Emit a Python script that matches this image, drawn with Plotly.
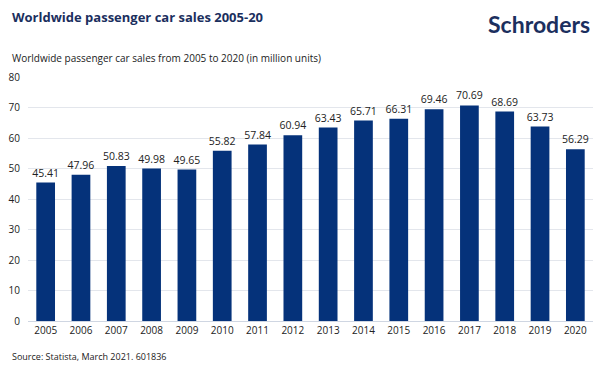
import plotly.graph_objects as go

years = [str(y) for y in range(2005, 2021)]
sales = [45.41, 47.96, 50.83, 49.98, 49.65, 55.82, 57.84, 60.94, 63.43, 65.71,
         66.31, 69.46, 70.69, 68.69, 63.73, 56.29]
y_ticks = [0, 10, 20, 30, 40, 50, 60, 70, 80]

font_family = "Open Sans, Noto Sans, sans-serif"
navy = "#05327a"

# page has default 8px body margin; figure is sized to fill the rest
OFF = 8
W, H = 604 - OFF, 369 - OFF
ML, MR, MT, MB = 28 - OFF, 11, 77 - OFF, 48

fig = go.Figure()
fig.add_trace(go.Bar(
    x=years, y=sales,
    marker=dict(color=navy, line=dict(width=0)),
    text=[f"{v:.2f}" for v in sales],
    textposition="outside",
    constraintext="none",
    textfont=dict(size=10.5, color="#222222", family=font_family),
    cliponaxis=False,
))

def px_to_paper(px, py):
    px -= OFF
    py -= OFF
    x0, x1 = ML, W - MR
    y0, y1 = H - MB, MT
    return (px - x0) / (x1 - x0), (y0 - py) / (y0 - y1)

anns = []
x, y = px_to_paper(10, 17)
anns.append(dict(text="<b>Worldwide passenger car sales 2005-20</b>", x=x, y=y,
                 xref="paper", yref="paper", xanchor="left", yanchor="middle",
                 showarrow=False, font=dict(size=13, color="#1b2f5e", family=font_family)))
x, y = px_to_paper(10, 58)
anns.append(dict(text="Worldwide passenger car sales from 2005 to 2020 (in million units)",
                 x=x, y=y, xref="paper", yref="paper", xanchor="left", yanchor="middle",
                 showarrow=False, font=dict(size=10, color="#222222", family=font_family)))
x, y = px_to_paper(10, 356)
anns.append(dict(text="Source: Statista, March 2021. 601836", x=x, y=y,
                 xref="paper", yref="paper", xanchor="left", yanchor="middle",
                 showarrow=False, font=dict(size=9, color="#222222", family=font_family)))
x, y = px_to_paper(592, 24)
anns.append(dict(text="<b>Schroders</b>", x=x, y=y, xref="paper", yref="paper",
                 xanchor="right", yanchor="middle", showarrow=False,
                 font=dict(size=23, color="#1b2f5e", family="Lato, Open Sans, sans-serif")))

fig.update_layout(
    width=W, height=H,
    margin=dict(l=ML, r=MR, t=MT, b=MB, autoexpand=False),
    paper_bgcolor="white", plot_bgcolor="white",
    font=dict(family=font_family, size=10, color="#222222"),
    bargap=0.47,
    showlegend=False,
    xaxis=dict(type="category", showgrid=False, showline=False, ticks="",
               automargin=False, ticklabelstandoff=2,
               tickfont=dict(size=10, color="#222222")),
    yaxis=dict(range=[0, 80], tickvals=y_ticks, showgrid=True, gridcolor="#e3e6ec",
               gridwidth=1, zeroline=True, zerolinecolor="#cfd6e2", zerolinewidth=1,
               ticks="", ticklabelstandoff=7, automargin=False,
               tickfont=dict(size=10, color="#222222")),
    annotations=anns,
)

fig.write_html("out.html")
